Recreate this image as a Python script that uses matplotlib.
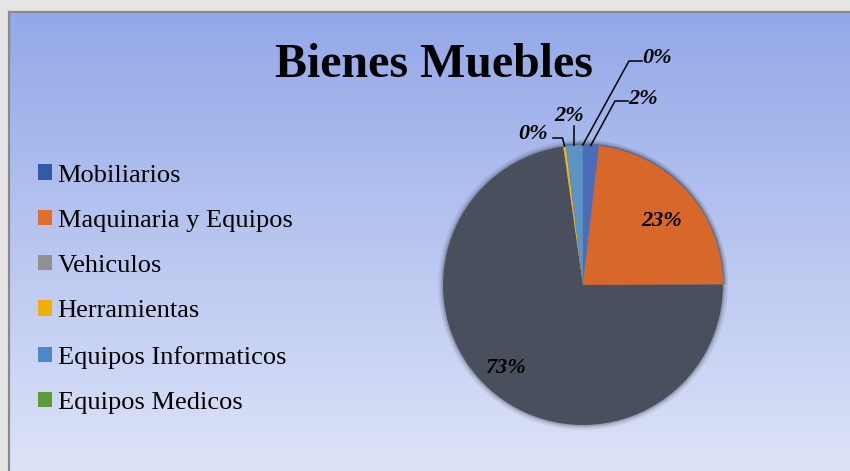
import numpy as np
import matplotlib
matplotlib.use("Agg")
import matplotlib.pyplot as plt
from matplotlib.patches import Patch

# ---- data ----
categories = ["Mobiliarios", "Maquinaria y Equipos", "Vehiculos", "Herramientas",
              "Equipos Informaticos", "Equipos Medicos"]
values = [1.8, 23.1, 72.7, 0.3, 1.9, 0.05]
pct_labels = ["2%", "23%", "73%", "0%", "2%", "0%"]
pie_colors = ["#4a6db9", "#d8682a", "#4a4f5d", "#f2b214", "#5b93c6", "#5b8fc0"]
legend_colors = ["#3558a8", "#e06d2e", "#909090", "#f0b000", "#4a89c6", "#5b9b3a"]
title = "Bienes Muebles"

W, H = 850, 471
fig = plt.figure(figsize=(W / 100, H / 100), dpi=100)
fig.patch.set_facecolor("#e4e5e4")
ax = fig.add_axes([0, 0, 1, 1])
ax.set_xlim(0, W)
ax.set_ylim(0, H)
ax.set_axis_off()

# chart area gradient (top y=12 px)
x0, ytop = 9, 12
top = np.array([0x93, 0xa8, 0xe8]) / 255
bot = np.array([0xdd, 0xe3, 0xf7]) / 255
t = np.linspace(0, 1, 256)[:, None]
grad = (top[None, :] * (1 - t) + bot[None, :] * t)[:, None, :]
ax.imshow(grad, extent=(x0, W, 0, H - ytop), aspect="auto", zorder=0, interpolation="bilinear")
ax.plot([x0, x0], [0, H - ytop], color="#8a8a8a", lw=1.6, zorder=1)
ax.plot([x0, W], [H - ytop, H - ytop], color="#8a8a8a", lw=1.6, zorder=1)

# ---- pie ----
cx, cy, R = 583, H - 285, 140

# soft edge for the large slice
for k, a in [(5, 0.10), (3, 0.15), (1.5, 0.25)]:
    ax.pie(values, radius=R + k, center=(cx, cy), startangle=90, counterclock=False,
           colors=[(0, 0, 0, 0)] * 2 + [pie_colors[2]] + [(0, 0, 0, 0)] * 3,
           wedgeprops=dict(linewidth=0, alpha=a), frame=True)

wedges, _ = ax.pie(values, radius=R, center=(cx, cy), startangle=90, counterclock=False,
                   colors=pie_colors, wedgeprops=dict(linewidth=0), frame=True)
ax.set_xlim(0, W)
ax.set_ylim(0, H)
ax.set_aspect("equal")
ax.set_axis_off()

lab_font = dict(family="Liberation Serif", fontsize=16, fontweight="bold", style="italic", color="black")

def rim(w, rr=1.0):
    th = np.deg2rad((w.theta1 + w.theta2) / 2)
    return cx + R * rr * np.cos(th), cy + R * rr * np.sin(th)

# big labels inside
px, py = rim(wedges[1], 0.72)
ax.text(px + 4, py - 3, pct_labels[1], ha="center", va="center", **lab_font)
px, py = rim(wedges[2], 0.76)
ax.text(px - 8, py - 2, pct_labels[2], ha="center", va="center", **lab_font)

# small labels with leader lines (elbow points in pixel layout)
lead_style = dict(color="black", lw=1.1, zorder=5)
# Equipos Medicos (index 5)
ex, ey = rim(wedges[5])
ax.plot([ex, 629, 642], [ey, H - 61, H - 61], **lead_style)
ax.text(642, H - 58, pct_labels[5], ha="left", va="center", **lab_font)
# Mobiliarios (index 0)
ex, ey = rim(wedges[0])
ax.plot([ex, 615, 628], [ey, H - 101, H - 101], **lead_style)
ax.text(628, H - 99, pct_labels[0], ha="left", va="center", **lab_font)
# Equipos Informaticos (index 4)
ex, ey = rim(wedges[4])
ax.plot([ex, ex], [ey, H - 126], **lead_style)
ax.text(ex - 5, H - 116, pct_labels[4], ha="center", va="center", **lab_font)
# Herramientas (index 3)
ex, ey = rim(wedges[3])
ax.plot([ex, ex - 2, 553], [ey, H - 138, H - 138], **lead_style)
ax.text(533, H - 134, pct_labels[3], ha="center", va="center", **lab_font)

# ---- title ----
ax.text(434, H - 65, title, ha="center", va="center", family="Liberation Serif",
        fontsize=34.5, fontweight="bold", color="black")

# ---- legend ----
handles = [Patch(facecolor=c, edgecolor="none") for c in legend_colors]
leg = ax.legend(handles, categories, loc="upper left", bbox_to_anchor=(38 / W, 1 - 164.5 / H),
                bbox_transform=fig.transFigure, frameon=False,
                prop=dict(family="Liberation Serif", size=19),
                handlelength=0.52, handleheight=0.52, handletextpad=0.22,
                labelspacing=0.88, borderpad=0, borderaxespad=0)

fig.savefig("out.png", dpi=100, facecolor=fig.get_facecolor())
